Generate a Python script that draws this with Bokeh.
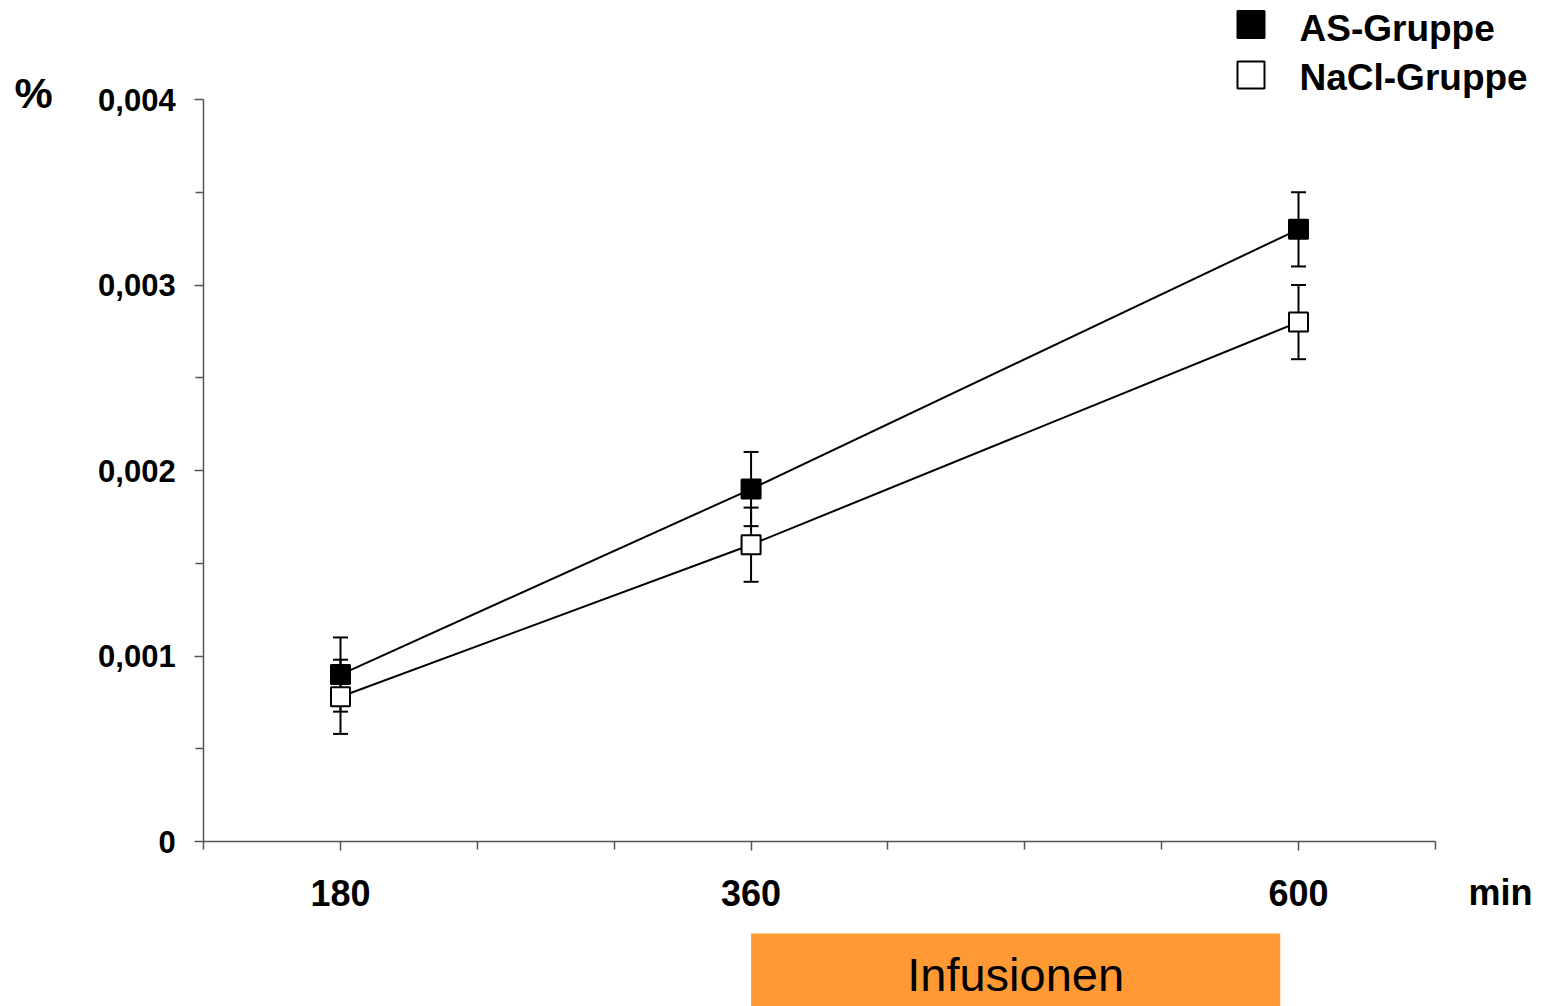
from bokeh.plotting import figure
from bokeh.models import LinearAxis, FixedTicker, Range1d, Label
from bokeh.embed import file_html
from bokeh.resources import INLINE

# ---- data ----
times = [180, 360, 600]
as_mean = [0.0009, 0.0019, 0.0033]
as_err = [0.0002, 0.0002, 0.0002]
nacl_mean = [0.00078, 0.0016, 0.0028]
nacl_err = [0.0002, 0.0002, 0.0002]

x_major_ticks = [180, 360, 600]
x_tick_labels = ["180", "360", "600"]
x_minor_ticks = [120, 240, 300, 420, 480, 540, 660]
y_ticks = [0, 0.001, 0.002, 0.003, 0.004]
y_tick_labels = ["0", "0,001", "0,002", "0,003", "0,004"]
y_minor_ticks = [0.0005, 0.0015, 0.0025, 0.0035]

series_labels = ["AS-Gruppe", "NaCl-Gruppe"]
infusion_start = 360
infusion_end = 592
infusion_label = "Infusionen"

FONT = "Liberation Sans"
AXIS_COLOR = "#555555"

W, H = 1547, 1006
# scale: 180 min at px 340, 600 min at px 1298; 0 at py 841, 0.004 at py 99
SX = (1298 - 340) / (600 - 180)
SY = (841 - 99) / 0.004
X0 = 180 - 340 / SX
Y1 = 0.004 + 99 / SY
TXT_SHIFT = 13  # correction for label baseline placement


def px_x(px):
    return X0 + px / SX


def px_y(py):
    return Y1 - py / SY


p = figure(width=W, height=H,
           x_range=Range1d(X0, X0 + W / SX),
           y_range=Range1d(Y1 - H / SY, Y1),
           x_axis_location=None, y_axis_location=None,
           toolbar_location=None, output_backend="svg",
           min_border=0, title=None, outline_line_color=None)
p.grid.visible = False
p.background_fill_color = "white"

# ---- axes ----
xaxis = LinearAxis(fixed_location=0, bounds=(120, 660),
                   ticker=FixedTicker(ticks=x_major_ticks, minor_ticks=x_minor_ticks),
                   major_label_overrides={t: l for t, l in zip(x_major_ticks, x_tick_labels)})
yaxis = LinearAxis(fixed_location=120, bounds=(0, 0.004),
                   ticker=FixedTicker(ticks=y_ticks, minor_ticks=y_minor_ticks),
                   major_label_overrides={t: l for t, l in zip(y_ticks, y_tick_labels)})
for ax in (xaxis, yaxis):
    ax.axis_line_color = AXIS_COLOR
    ax.axis_line_width = 1.5
    ax.major_tick_line_color = AXIS_COLOR
    ax.minor_tick_line_color = AXIS_COLOR
    ax.major_tick_line_width = 1.5
    ax.minor_tick_line_width = 1.5
    ax.major_tick_in = 0
    ax.major_tick_out = 9
    ax.minor_tick_in = 0
    ax.minor_tick_out = 8
    ax.major_label_text_font = FONT
    ax.major_label_text_font_style = "bold"
    ax.major_label_text_color = "black"
xaxis.major_label_standoff = 29
xaxis.major_label_text_font_size = "36px"
yaxis.major_label_standoff = 19
yaxis.major_label_text_font_size = "31px"
p.add_layout(xaxis, "below")
p.add_layout(yaxis, "left")

# ---- infusion box ----
p.quad(left=[infusion_start], right=[infusion_end], top=[px_y(933)], bottom=[px_y(1020)],
       fill_color="#FF9933", line_color=None)

# ---- lines ----
p.line(times, as_mean, line_color="black", line_width=2)
p.line(times, nacl_mean, line_color="black", line_width=2)

# ---- error bars ----
for mean, err in ((as_mean, as_err), (nacl_mean, nacl_err)):
    up = [m + e for m, e in zip(mean, err)]
    lo = [m - e for m, e in zip(mean, err)]
    p.segment(x0=times, y0=lo, x1=times, y1=up, line_color="black", line_width=2)
    p.scatter(times, up, marker="dash", size=15, line_color="black", line_width=2)
    p.scatter(times, lo, marker="dash", size=15, line_color="black", line_width=2)

# ---- markers ----
p.scatter(times, as_mean, marker="square", size=19,
          fill_color="black", line_color="black", line_width=2)
p.scatter(times, nacl_mean, marker="square", size=19,
          fill_color="white", line_color="black", line_width=2)

# ---- legend (drawn manually to match original key) ----
p.scatter([px_x(1250.5)], [px_y(24)], marker="square", size=27,
          fill_color="black", line_color="black", line_width=2)
p.scatter([px_x(1250.5)], [px_y(74.5)], marker="square", size=27,
          fill_color="white", line_color="black", line_width=2)
for lbl, base in zip(series_labels, (40.5, 90)):
    p.add_layout(Label(x=1299, y=H - base + TXT_SHIFT, x_units="screen", y_units="screen", text=lbl,
                       text_font=FONT, text_font_style="bold", text_font_size="37px",
                       text_baseline="alphabetic", text_align="left", text_color="black"))

# ---- texts ----
p.add_layout(Label(x=14, y=H - 105 + TXT_SHIFT, x_units="screen", y_units="screen", text="%",
                   text_font=FONT, text_font_style="bold", text_font_size="43px",
                   text_baseline="alphabetic", text_align="left", text_color="black"))
p.add_layout(Label(x=1468, y=H - 905 + TXT_SHIFT, x_units="screen", y_units="screen", text="min",
                   text_font=FONT, text_font_style="bold", text_font_size="36px",
                   text_baseline="alphabetic", text_align="left", text_color="black"))
p.add_layout(Label(x=(infusion_start + infusion_end) / 2, y=H - 987 + TXT_SHIFT, x_units="data",
                   y_units="screen", text=infusion_label, text_font=FONT, text_font_size="47px",
                   text_baseline="alphabetic", text_align="center", text_color="black"))

open("out.html", "w").write(file_html(p, INLINE))
